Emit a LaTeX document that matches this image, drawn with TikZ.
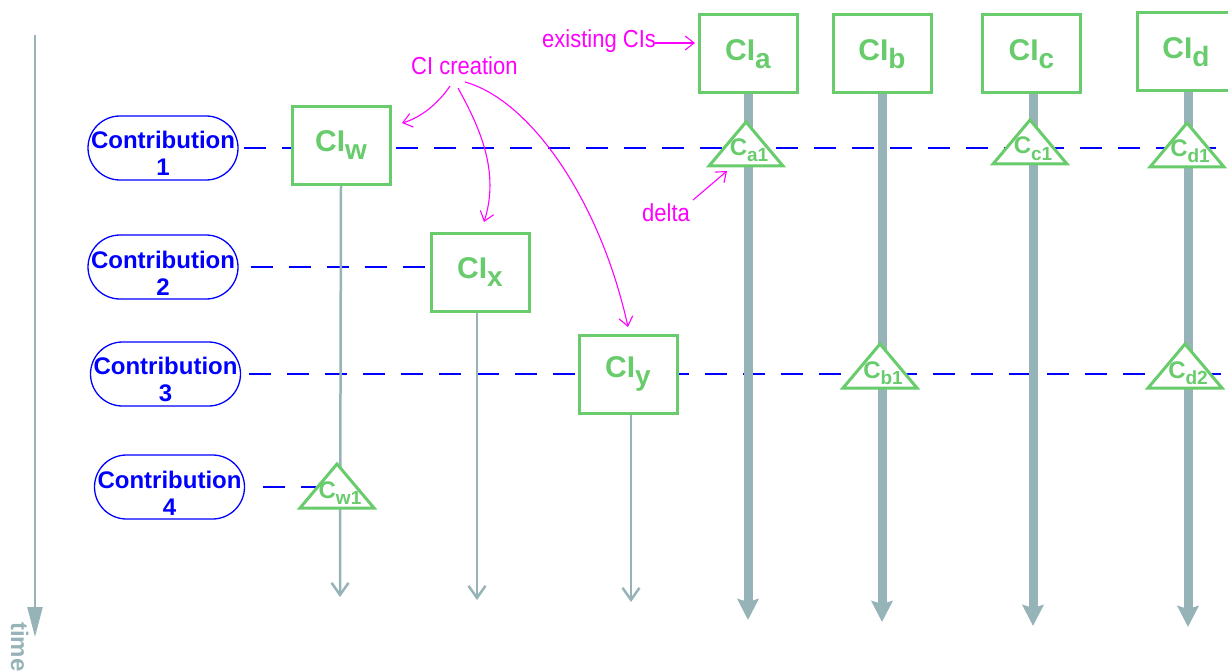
\documentclass[tikz,border=0pt]{standalone}
\usepackage{fontspec}
\usepackage{graphicx}
\setmainfont{Liberation Sans}
\usetikzlibrary{arrows.meta,calc}
\definecolor{cigreen}{RGB}{104,204,108}
\definecolor{cgray}{RGB}{150,180,184}
\definecolor{cblue}{RGB}{0,0,255}
\definecolor{cmag}{RGB}{255,0,255}
\newcommand{\CIlab}[1]{{\fontsize{30}{30}\selectfont CI}\raisebox{-8pt}{\fontsize{28}{28}\selectfont #1}}
\newcommand{\Clab}[1]{{\fontsize{24}{24}\selectfont C}\raisebox{-6pt}{\fontsize{19}{19}\selectfont #1}}
\newcommand{\magtext}[1]{\scalebox{1}[1.12]{#1}}
\newcommand{\tri}[4]{%
  \draw[tri] (#2,#3-44) -- (#2+37,#3) -- (#2-37,#3) -- cycle;
  \node[trilab] (#1) at (#2+3,#3-10) {\Clab{#4}};}
\begin{document}
\begin{tikzpicture}[x=1pt,y=-1pt,
  cibox/.style={draw=cigreen, line width=3pt, fill=white, minimum width=98pt, minimum height=78pt, inner sep=0pt, text=cigreen, font=\bfseries},
  contrib/.style={draw=cblue, line width=1.3pt, fill=white, rounded corners=32pt, minimum width=150pt, minimum height=64pt, align=center, text=cblue, font=\fontsize{24}{27}\selectfont\bfseries, inner sep=0pt},
  tri/.style={draw=cigreen, line width=3pt, fill=white, line join=miter},
  trilab/.style={text=cigreen, font=\bfseries, anchor=base, inner sep=0pt},
  thinline/.style={draw=cgray, line width=2.5pt, -{Straight Barb[length=12pt,width=17pt]}},
  thickline/.style={draw=cgray, line width=9pt, -{Stealth[length=21pt,width=21pt,inset=3pt]}},
  timeline/.style={draw=cgray, line width=2.5pt, -{Triangle[length=30pt,width=15pt]}},
  blued/.style={draw=cblue, line width=2pt, dash pattern=on 22pt off 16pt},
  note/.style={text=cmag, font=\fontsize{22}{22}\selectfont, inner sep=0pt},
  notearrow/.style={draw=cmag, line width=1.1pt, -{Straight Barb[length=9pt,width=14pt]}}
]
\useasboundingbox (0,0) rectangle (1228,671);

% time axis
\coordinate (t0) at (35,35);
\coordinate (t1) at (35,637);
\draw[timeline] (t0) -- (t1);
\node[text=cgray, font=\fontsize{24}{24}\selectfont\bfseries, rotate=-90, anchor=base west, inner sep=0pt] (time) at (11,622) {time};

% contributions
\node[contrib] (C1) at (163,148) {\rule{0pt}{29pt}Contribution\\1};
\node[contrib] (C2) at (163,267) {\rule{0pt}{29pt}Contribution\\2};
\node[contrib] (C3) at (165.5,374) {\rule{0pt}{29pt}Contribution\\3};
\node[contrib] (C4) at (169.5,487) {\rule{0pt}{29pt}Contribution\\4};

% coordinates for line ends
\coordinate (r1) at (1228,148);
\coordinate (r4) at (318,487);
\coordinate (ew) at (340,597);
\coordinate (ex) at (477,600);
\coordinate (ey) at (631,602);
\coordinate (ea) at (748,620);
\coordinate (eb) at (882,622);
\coordinate (ec) at (1033,626);
\coordinate (ed) at (1188,627);

% CI boxes (positions)
\path (341,145.5) coordinate (pw) (480,272) coordinate (px) (628,374) coordinate (py)
      (748,54) coordinate (pa) (882,54) coordinate (pb) (1031.5,54) coordinate (pc) (1186,52) coordinate (pd);

% dashed contribution lines
\draw[blued] ($(C1.east)+(5,0)$) -- (C1.east -| r1);
\draw[blued] ($(C2.east)+(12,0)$) -- (C2.east -| px);
\draw[blued] ($(C3.east)+(8,0)$) -- (C3.east -| r1);
\draw[blued] ($(C4.east)+(18,0)$) -- (r4);

% life lines
\draw[thinline] (pw |- 0,186) -- (ew);
\draw[thinline] (ex |- 0,311) -- (ex);
\draw[thinline] (ey |- 0,413) -- (ey);
\draw[thickline] (ea |- 0,92) -- (ea);
\draw[thickline] (eb |- 0,92) -- (eb);
\draw[thickline] (ec |- 0,92) -- (ec);
\draw[thickline] (ed |- 0,90) -- (ed);

% CI boxes
\node[cibox] (CIw) at (pw) {\CIlab{w}};
\node[cibox] (CIx) at (px) {\CIlab{x}};
\node[cibox] (CIy) at (py) {\CIlab{y}};
\node[cibox] (CIa) at (pa) {\CIlab{a}};
\node[cibox] (CIb) at (pb) {\CIlab{b}};
\node[cibox] (CIc) at (pc) {\CIlab{c}};
\node[cibox] (CId) at (pd) {\CIlab{d}};

% deltas
\tri{Ca1}{746}{166}{a1}
\tri{Cc1}{1030}{164}{c1}
\tri{Cd1}{1187}{167}{d1}
\tri{Cb1}{880}{388}{b1}
\tri{Cd2}{1185}{388}{d2}
\tri{Cw1}{337}{508}{w1}

% annotations
\node[note, anchor=base west] (exist) at (542,48) {\magtext{existing CIs}};
\node[note, anchor=base west] (create) at (411,75) {\magtext{CI creation}};
\node[note, anchor=base west] (delta) at (642,221) {\magtext{delta}};
\coordinate (ex0) at (655,43);
\coordinate (ex1) at (695,43);
\draw[notearrow] (ex0) -- (ex1);
\coordinate (d0) at (693,200);
\coordinate (d1) at (727,171);
\draw[notearrow] (d0) -- (d1);
\coordinate (k1) at (450,86);
\coordinate (k2) at (458,88);
\coordinate (k3) at (465,82);
\coordinate (m1) at (402,123);
\coordinate (m2) at (484,222);
\coordinate (m3) at (628,327);
\draw[notearrow] (k1) .. controls (438,104) and (420,118) .. (m1);
\draw[notearrow] (k2) .. controls (480,128) and (500,172) .. (m2);
\draw[notearrow] (k3) .. controls (530,100) and (600,200) .. (m3);
\end{tikzpicture}
\end{document}
